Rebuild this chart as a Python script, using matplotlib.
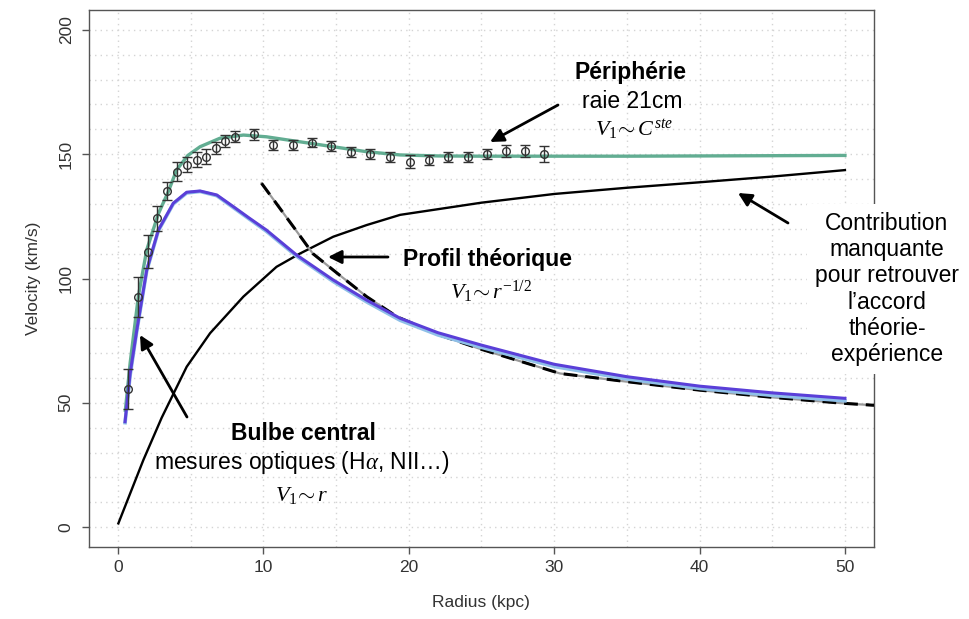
import matplotlib
matplotlib.use("Agg")
import matplotlib.pyplot as plt

plt.rcParams['font.family'] = ['Liberation Sans', 'DejaVu Sans']
plt.rcParams['mathtext.fontset'] = 'custom'
plt.rcParams['mathtext.rm'] = 'Liberation Serif'
plt.rcParams['mathtext.it'] = 'Liberation Serif:italic'

# points mesurés (rayon en kpc, vitesse en km/s, barre d'erreur)
r_obs = [0.65, 1.35, 2.04, 2.70, 3.34, 4.03, 4.72, 5.41, 6.05, 6.72, 7.38, 8.04,
         9.35, 10.68, 12.0, 13.34, 14.67, 16.0, 17.33, 18.7, 20.1, 21.4, 22.7,
         24.05, 25.35, 26.7, 28.0, 29.3]
v_obs = [55.5, 92.7, 110.8, 124.2, 135.3, 143.0, 145.7, 147.7, 149.0, 152.6, 155.4,
         157.0, 158.0, 153.7, 153.7, 154.7, 153.4, 150.7, 149.9, 149.0, 147.0,
         147.7, 149.0, 149.0, 149.9, 151.3, 151.3, 149.9]
err_obs = [8, 8, 6.5, 5, 3.7, 3.7, 3.0, 3.0, 3.0, 2.5, 2.5, 2.2, 2.2, 2.0, 2.0,
           2.0, 2.0, 2.0, 2.0, 2.0, 2.5, 2.0, 2.0, 2.0, 2.0, 2.5, 2.5, 3.2]

# courbe ajustée (verte)
r_fit = [0.5, 0.83, 1.4, 1.97, 2.77, 3.46, 4.03, 4.8, 5.64, 7.0, 8.62, 10.2, 12.5,
         14.8, 17.1, 19.4, 22, 25, 30, 35, 40, 45, 50]
v_fit = [47, 66, 93, 111.5, 126, 135, 143.7, 149.5, 153, 156.4, 157.7, 157, 155,
         153, 151, 149.7, 149.3, 149.2, 149.2, 149.2, 149.3, 149.4, 149.5]

# contribution du disque visible (bleu) et trait clair dessous
r_disk = [0.48, 0.83, 1.28, 1.97, 2.77, 3.80, 4.72, 5.64, 6.79, 7.93, 9.0, 10.2,
          12.27, 14.8, 17.1, 19.4, 22, 25, 30, 35, 40, 45, 50]
v_disk = [42.4, 61.8, 79, 103.4, 119.5, 130.3, 134.7, 135.2, 133.6, 128.9, 124.4,
          119.5, 109.5, 99.4, 91.3, 84, 78.2, 73.2, 65.5, 60.5, 56.7, 54, 51.8]
v_disk_light = [42.0, 61.0, 78.5, 103.0, 119.2, 130.0, 134.4, 135.0, 133.3, 128.5,
                124.0, 119.0, 109.0, 98.8, 90.6, 83.2, 77.3, 72.3, 64.6, 59.6,
                55.8, 53.0, 50.8]

# profil théorique képlérien (tirets)
r_kep = [9.87, 12.06, 13.4, 14.8, 17.1, 19.2, 22, 25, 30.4, 35, 40, 45, 49.9, 52]
v_kep = [138.3, 120.8, 110, 103.4, 92.7, 84.6, 77.5, 71.5, 61.8, 58.5, 55.1, 52.2,
         49.8, 49.0]

# contribution manquante (noir)
r_halo = [0.02, 1.74, 3.0, 4.72, 6.33, 8.62, 10.9, 12.5, 14.8, 17.1, 19.4, 25,
          30, 35, 40, 45, 50]
v_halo = [1.5, 27, 44, 64.5, 78, 92.7, 104.7, 110, 116.8, 121.5, 125.6, 130.5,
          134, 136.5, 138.7, 141, 143.6]

x_ticks = [0, 10, 20, 30, 40, 50]
y_ticks = [0, 50, 100, 150, 200]

W, H = 970, 619
fig = plt.figure(figsize=(W / 100, H / 100), dpi=100)
ax = fig.add_axes([89 / W, 1 - 547 / H, (874 - 89) / W, (547 - 10) / H])
ax.set_xlim(-2, 52)
ax.set_ylim(-8, 208)

# grille pointillée
for gx in range(0, 55, 5):
    ax.axvline(gx, color='#d4d4d4', lw=1, ls=(0, (1, 3)), zorder=0)
for gy in range(0, 210, 10):
    ax.axhline(gy, color='#d4d4d4', lw=1, ls=(0, (1, 3)), zorder=0)

ax.plot(r_halo, v_halo, color='black', lw=1.7, zorder=3)
ax.plot(r_kep, v_kep, color='#9a9a9a', lw=1.6, zorder=3)
ax.plot(r_kep, v_kep, color='black', lw=2.2, ls=(0, (4.5, 2.6)), zorder=3)
ax.plot(r_disk, v_disk_light, color='#8fc0e8', lw=2.6, zorder=4)
ax.plot(r_disk, v_disk, color='#5a3fd8', lw=2.2, zorder=5)
ax.plot(r_fit, v_fit, color='#62ad92', lw=2.4, zorder=4)
ax.errorbar(r_obs, v_obs, yerr=err_obs, fmt='o', ms=5.5, mfc='none', mec='#333333',
            mew=1.0, ecolor='#333333', elinewidth=1.0, capsize=3.5, capthick=1.0,
            zorder=6)

ax.set_xticks(x_ticks)
ax.set_yticks(y_ticks)
ax.tick_params(direction='out', length=5, width=1, color='#555555',
               labelcolor='#333333', labelsize=12.5)
ax.tick_params(axis='x', pad=4)
ax.tick_params(axis='y', pad=6)
for lab in ax.get_yticklabels():
    lab.set_rotation(90)
    lab.set_va('center')
for sp in ax.spines.values():
    sp.set_color('#555555')
    sp.set_linewidth(1)


def px(x, y):
    return x / W, 1 - y / H


def note(x, y, s, **kw):
    fig.text(*px(x, y), s, ha='center', va='center', **kw)


note(481, 603, 'Radius (kpc)', fontsize=12.5, color='#333333')
note(34, 278, 'Velocity (km/s)', fontsize=12.5, color='#333333', rotation=90)

note(631, 73, 'Périphérie', fontsize=16.5, fontweight='bold')
note(632, 102, 'raie 21cm', fontsize=16.5)
note(634, 130, r'$V_1\!\sim C^{ste}$', fontsize=16)
note(488, 260, 'Profil théorique', fontsize=16.5, fontweight='bold')
note(491, 292, r'$V_1\!\sim r^{\mathit{-1/2}}$', fontsize=16)
note(303, 433, 'Bulbe central', fontsize=16.5, fontweight='bold')
note(302, 463, r'mesures optiques (H$\alpha$, NII…)', fontsize=16.5)
note(302, 495, r'$V_1\!\sim r$', fontsize=16)
note(887, 289, 'Contribution\nmanquante\npour retrouver\nl’accord\nthéorie-\nexpérience',
     fontsize=16.5, linespacing=1.18,
     bbox=dict(facecolor='white', edgecolor='none', pad=6))

# flèches (pixels de départ -> pointe)
arrows = [((558, 105), (490, 142)),
          ((388, 257), (328, 257)),
          ((788, 223), (738, 193)),
          ((187, 417), (140, 335))]
for tail, head in arrows:
    ax.annotate('', xy=px(*head), xycoords='figure fraction',
                xytext=px(*tail), textcoords='figure fraction',
                arrowprops=dict(arrowstyle='-|>', color='black', lw=2,
                                mutation_scale=20, shrinkA=0, shrinkB=0),
                zorder=7)

fig.savefig('out.png', dpi=100)
